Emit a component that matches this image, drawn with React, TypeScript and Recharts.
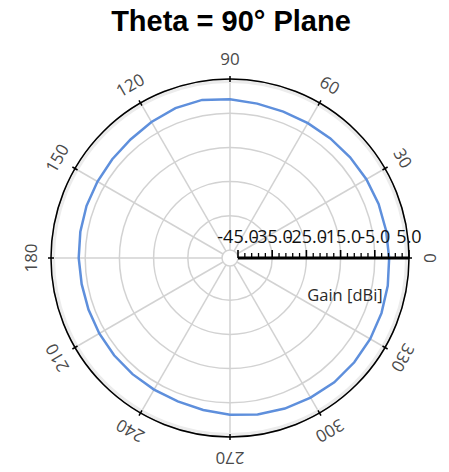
import React from 'react';
import { RadarChart, Radar, PolarGrid, PolarAngleAxis, PolarRadiusAxis, Customized } from 'recharts';

// azimuth (deg) and measured gain (dBi), theta = 90 deg cut
const ANGLES = [0, 10, 20, 30, 40, 50, 60, 70, 80, 90, 100, 110, 120, 130, 140, 150, 160, 170,
  180, 190, 200, 210, 220, 230, 240, 250, 260, 270, 280, 290, 300, 310, 320, 330, 340, 350];
const GAIN = [-1.0, -1.1, -1.3, -1.5, -1.7, -1.8, -1.8, -1.5, -0.9, -0.4, -0.7, -1.4, -2.1, -2.4,
  -2.6, -2.7, -2.9, -3.1, -3.3, -3.3, -3.2, -3.1, -3.0, -2.9, -2.7, -2.2, -1.5, -0.9, -0.5, -0.2,
  0.1, 0.1, 0.0, -0.2, -0.5, -0.8];
const SPOKES = [0, 30, 60, 90, 120, 150, 180, 210, 240, 270, 300, 330];
const RADIAL_TICKS = [-45, -35, -25, -15, -5, 5];
const RADIAL_DOMAIN: [number, number] = [-45, 5];

const W = 449;
const H = 472;
const CX = 230;
const CY = 258;
const INNER = 8;
const OUTER = 179;
const LABEL_R = 200;
const PX_PER_DB = (OUTER - INNER) / (RADIAL_DOMAIN[1] - RADIAL_DOMAIN[0]);

const data = ANGLES.map((a, i) => ({ angle: a, gain: GAIN[i] }));

const FONT = '"Open Sans", "DejaVu Sans", sans-serif';

const AngleTick = (props: any) => {
  const v = Number(props.payload?.value);
  if (v % 30 !== 0) return <g />;
  const rad = (v * Math.PI) / 180;
  const c = Math.cos(rad);
  const s = Math.sin(rad);
  const lx = CX + LABEL_R * c;
  const ly = CY - LABEL_R * s;
  return (
    <g>
      <line x1={CX + (OUTER - 3) * c} y1={CY - (OUTER - 3) * s} x2={CX + (OUTER + 3) * c} y2={CY - (OUTER + 3) * s}
        stroke="#000" strokeWidth={1.5} />
      <text x={lx} y={ly} transform={`rotate(${90 - v}, ${lx}, ${ly})`} textAnchor="middle"
        dominantBaseline="central" fill="#4a4a4a" fontSize={17} fontFamily={FONT}>{v}</text>
    </g>
  );
};

const RadialTick = (props: any) => {
  const v = Number(props.payload?.value);
  const r = Number(props.payload?.coordinate);
  const x = CX + r;
  const minors = [];
  if (v < RADIAL_DOMAIN[1]) {
    for (let k = 1; k < 5; k++) {
      const mx = x + k * 2 * PX_PER_DB;
      minors.push(<line key={k} x1={mx} y1={CY} x2={mx} y2={CY - 5} stroke="#000" strokeWidth={1.3} />);
    }
  }
  return (
    <g>
      <line x1={x} y1={CY} x2={x} y2={CY - 8} stroke="#000" strokeWidth={1.6} />
      {minors}
      <text x={x} y={CY - 22} textAnchor="middle" dominantBaseline="central" fill="#111"
        fontSize={18} fontFamily={FONT}>{v.toFixed(1)}</text>
    </g>
  );
};

const Extras = () => (
  <g>
    <circle cx={CX} cy={CY} r={OUTER - 2.5} fill="none" stroke="#ececec" strokeWidth={3} />
    <text x={345} y={294} textAnchor="middle" dominantBaseline="central" fill="#2a2a2a"
      fontSize={16.5} fontFamily={FONT}>Gain [dBi]</text>
  </g>
);

export default function App() {
  return (
    <div style={{ position: 'absolute', left: 0, top: 0, width: W, height: H, background: '#fff' }}>
      <div style={{ position: 'absolute', left: 0, top: 4, width: 462, textAlign: 'center',
        fontFamily: '"Liberation Sans", Arial, sans-serif', fontWeight: 'bold', fontSize: 29, lineHeight: '34px',
        color: '#000' }}>
        Theta = 90° Plane
      </div>
      <RadarChart width={W} height={H} data={data} cx={CX} cy={CY} innerRadius={INNER} outerRadius={OUTER}
        startAngle={0} endAngle={360} margin={{ top: 0, right: 0, bottom: 0, left: 0 }}>
        <Customized component={<Extras />} />
        <PolarGrid gridType="circle" polarAngles={SPOKES} stroke="#d2d2d2" strokeWidth={1.5} />
        <PolarAngleAxis dataKey="angle" type="category" axisLineType="circle" tickLine={false}
          axisLine={{ stroke: '#000', strokeWidth: 1.5 }} tick={<AngleTick />} />
        <Radar dataKey="gain" stroke="#5e8fdc" strokeWidth={2.5} fill="none" fillOpacity={0}
          dot={false} isAnimationActive={false} />
        <PolarRadiusAxis angle={0} type="number" domain={RADIAL_DOMAIN} ticks={RADIAL_TICKS}
          allowDataOverflow axisLine={{ stroke: '#000', strokeWidth: 3 }} tickLine={false}
          tick={<RadialTick />} />
      </RadarChart>
    </div>
  );
}
